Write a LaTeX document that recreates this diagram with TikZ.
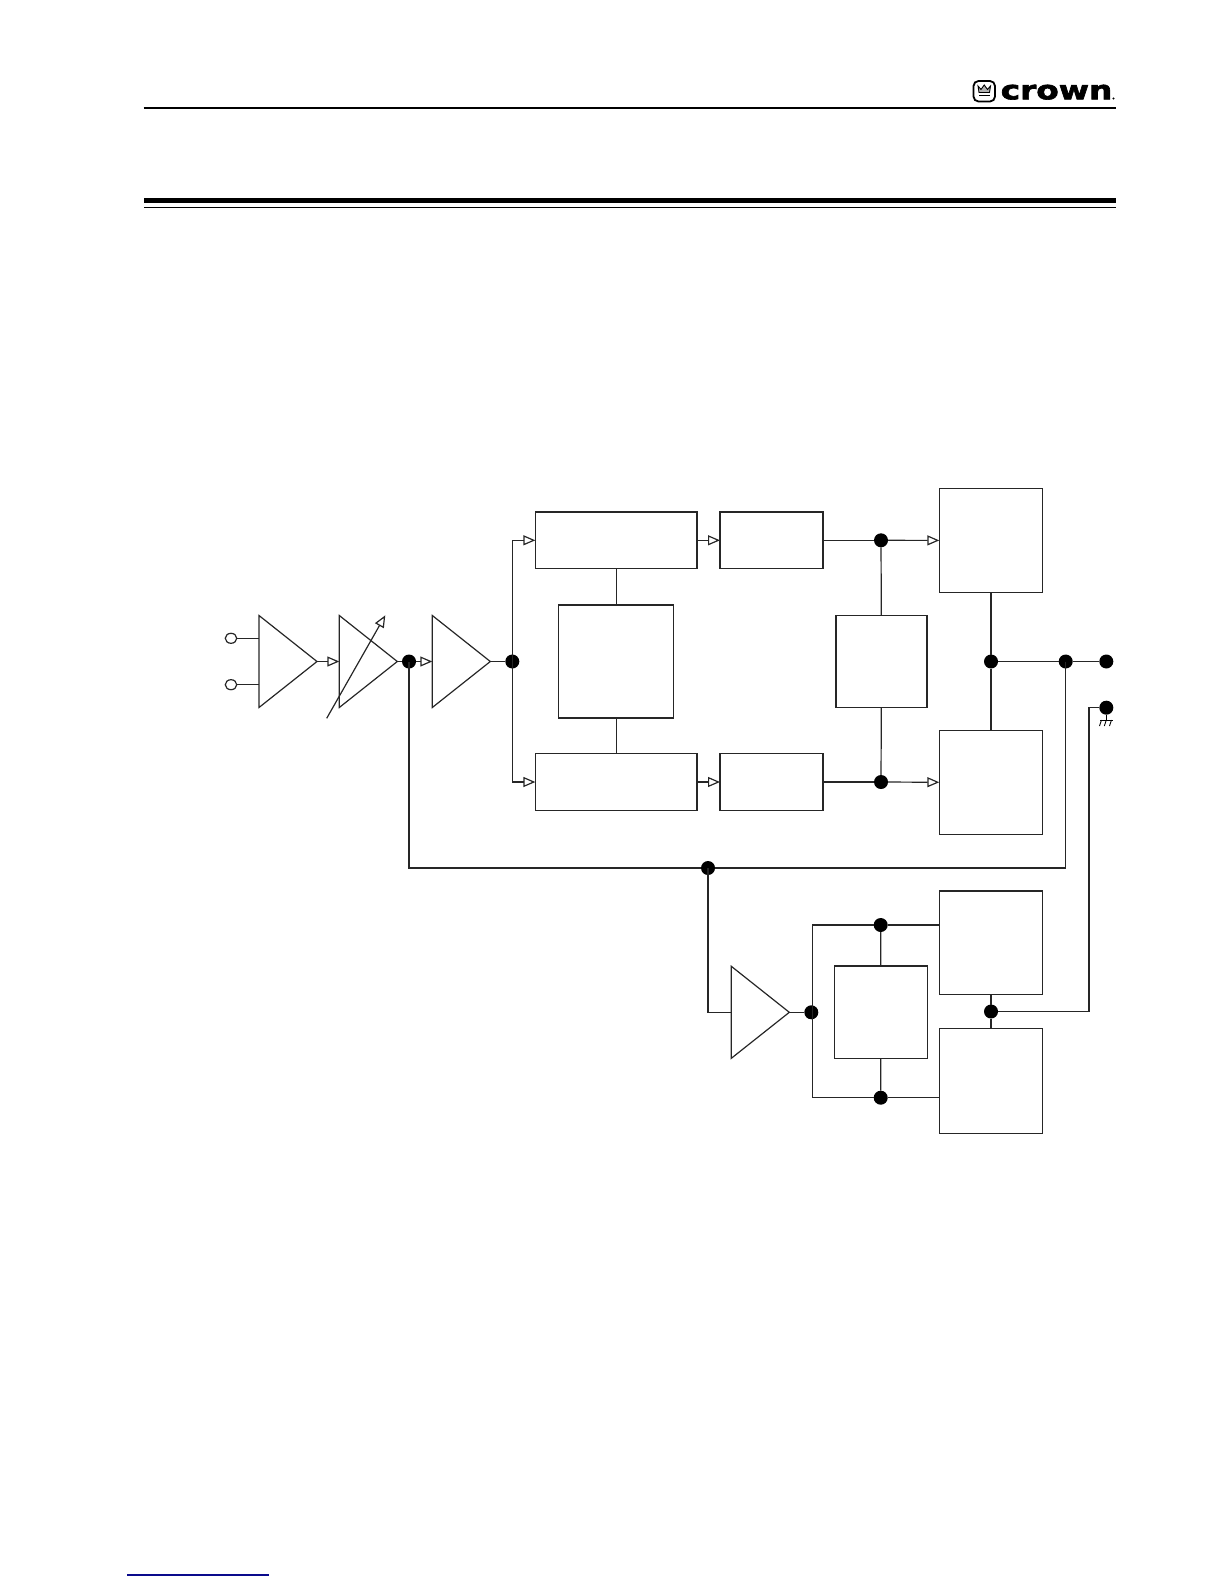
\documentclass[tikz,border=0pt]{standalone}
\usepackage{fontspec}
\newfontfamily\logofont{DejaVu Sans Bold}[FakeBold=2.5,FakeStretch=1.26]
\usetikzlibrary{shapes.geometric}
\usetikzlibrary{arrows.meta}
\tikzset{
	wire/.style={line width=1.2pt,draw=black!85},
	sig/.style={wire,-{Triangle[open,length=12pt,width=10pt]}},
	block/.style={draw=black!85,line width=1.2pt,rectangle,inner sep=0pt,outer sep=0pt},
	amp/.style={draw=black!85,line width=1.2pt,isosceles triangle,isosceles triangle stretches,
		minimum width=92pt,minimum height=58pt,inner sep=0pt,outer sep=0pt,anchor=lower side},
	dot/.style={circle,fill=black,draw=none,minimum size=14pt,inner sep=0pt,outer sep=0pt},
	term/.style={ellipse,draw=black!85,line width=1.2pt,fill=white,minimum width=11.5pt,minimum height=10pt,inner sep=0pt,outer sep=0pt},
	rule/.style={line width=#1,black}
}
\begin{document}
\begin{tikzpicture}[x=1pt,y=-1pt]
	\useasboundingbox (0,0) rectangle (1224,1584);
	% page rules
	\draw[rule=1.2pt] (143.5,108) -- (1116,108);
	\draw[rule=4.8pt] (144,200.3) -- (1116,200.3);
	\draw[rule=1.2pt] (144,207.3) -- (1116,207.3);
	\draw[line width=1.2pt,draw={rgb,255:red,10;green,10;blue,140}] (127.3,1575) -- (268.7,1575);
	% logo
	\draw[line width=1.8pt,rounded corners=5pt] (973.5,81) rectangle (995,101.5);
	\draw[line width=.9pt,fill=black!30] (978,86) -- (981,89.5) -- (984.2,85) -- (987.5,89.5) -- (990.5,86) -- (989.5,92.5) -- (979,92.5) -- cycle;
	\draw[line width=1.4pt] (979,95.5) -- (989.5,95.5);
	\node[inner sep=0pt,anchor=base west] (logotext) at (1000.5,99.3) {\logofont\fontsize{26}{26}\selectfont crown};
	\node[fill=black,circle,inner sep=0pt,minimum size=2.4pt] (logomark) at (1113.5,98.5) {};
	% input stage
	\node[amp] (inamp) at (259,661.5) {};
	\node[amp] (gainamp) at (339.3,661.5) {};
	\node[amp] (preamp) at (432.3,661.5) {};
	\node[term] (plus) at (231,638.3) {};
	\node[term] (minus) at (231,684.7) {};
	\node[dot] (gaindot) at (409,661.5) {};
	\node[dot] (splitdot) at (512.3,661.5) {};
	\coordinate (knoblo) at (326.7,718.3);
	\coordinate (knobhi) at (385.3,615.3);
	\draw[wire] (plus) -- (plus -| inamp.lower side);
	\draw[wire] (minus) -- (minus -| inamp.lower side);
	\draw[sig] (inamp.apex) -- (gainamp.lower side);
	\draw[sig] (knoblo) -- (knobhi);
	\draw[wire] (gainamp.apex) -- (gaindot);
	\draw[sig] (gaindot) -- (preamp.lower side);
	\draw[wire] (preamp.apex) -- (splitdot);
	% output blocks
	\node[block,minimum width=161.7pt,minimum height=56.6pt] (drvtop) at (616.2,540.3) {};
	\node[block,minimum width=161.7pt,minimum height=56.6pt] (drvbot) at (616.2,782) {};
	\node[block,minimum width=103pt,minimum height=56.6pt] (vgtop) at (771.5,540.3) {};
	\node[block,minimum width=103pt,minimum height=56.6pt] (vgbot) at (771.5,782) {};
	\node[block,minimum width=115pt,minimum height=113pt] (biasbox) at (616.2,661.5) {};
	\node[block,minimum width=91pt,minimum height=92pt] (limitbox) at (881.5,661.5) {};
	\node[block,minimum width=103.4pt,minimum height=103.4pt] (outtop) at (991,540.5) {};
	\node[block,minimum width=103.4pt,minimum height=103.4pt] (outbot) at (991,782.5) {};
	\node[dot] (vtopdot) at (881,540.3) {};
	\node[dot] (vbotdot) at (881,782) {};
	\node[dot] (outdot) at (991,661.5) {};
	\node[dot] (fbdot) at (1065.7,661.5) {};
	\node[dot] (hotdot) at (1106.3,661.5) {};
	\node[dot] (gnddot) at (1106.3,707.7) {};
	\draw[sig] (splitdot.center) |- (drvtop.west);
	\draw[sig] (splitdot.center) |- (drvbot.west);
	\draw[sig] (drvtop) -- (vgtop);
	\draw[sig] (drvbot) -- (vgbot);
	\draw[wire] (vgtop) -- (vtopdot);
	\draw[wire] (vgbot) -- (vbotdot);
	\draw[sig] (vtopdot) -- (outtop);
	\draw[sig] (vbotdot) -- (outbot);
	\draw[wire] (drvtop) -- (biasbox);
	\draw[wire] (biasbox) -- (drvbot);
	\draw[wire] (vtopdot) -- (limitbox);
	\draw[wire] (limitbox) -- (vbotdot);
	\draw[wire] (outtop) -- (outdot);
	\draw[wire] (outdot) -- (outbot);
	\draw[wire] (outdot) -- (fbdot);
	\draw[wire] (fbdot) -- (hotdot);
	% feedback
	\node[dot] (servodot) at (708,868) {};
	\coordinate (fbcorner) at (1065.7,868);
	\draw[wire] (fbdot.center) -- (fbcorner) -- (servodot);
	\draw[wire] (servodot) -| (gaindot.center);
	% lower stage
	\node[amp] (psamp) at (731.3,1012.3) {};
	\node[dot] (psdot) at (811.3,1012.3) {};
	\node[dot] (ptopdot) at (880.7,925) {};
	\node[dot] (pbotdot) at (880.7,1097.7) {};
	\node[block,minimum width=93pt,minimum height=92.3pt] (psbox) at (880.8,1012.2) {};
	\node[block,minimum width=103.4pt,minimum height=103.7pt] (pstop) at (991,942.8) {};
	\node[block,minimum width=103.4pt,minimum height=105pt] (psbot) at (991,1080.8) {};
	\node[dot] (psoutdot) at (991,1011.5) {};
	\coordinate (gndcorner) at (1089,707.7);
	\draw[wire] (servodot.center) |- (psamp.lower side);
	\draw[wire] (psamp.apex) -- (psdot);
	\draw[wire] (ptopdot) -| (812.7,1097.7) -- (pbotdot);
	\draw[wire] (ptopdot) -- (ptopdot -| pstop.west);
	\draw[wire] (pbotdot) -- (pbotdot -| psbot.west);
	\draw[wire] (ptopdot) -- (psbox);
	\draw[wire] (psbox) -- (pbotdot);
	\draw[wire] (pstop) -- (psoutdot);
	\draw[wire] (psoutdot) -- (psbot);
	\draw[wire] (psoutdot) -| (gndcorner) -- (gnddot);
	% ground symbol
	\coordinate (gndtop) at (1106.3,720);
	\draw[line width=.9pt] (gnddot) -- (gndtop);
	\draw[line width=.9pt] (1100,720) -- (1112.8,720);
	\draw[line width=.9pt] (1101.5,720) -- (1099.5,726) (1106.3,720) -- (1104.3,726) (1111.5,720) -- (1109.5,726);
\end{tikzpicture}
\end{document}
